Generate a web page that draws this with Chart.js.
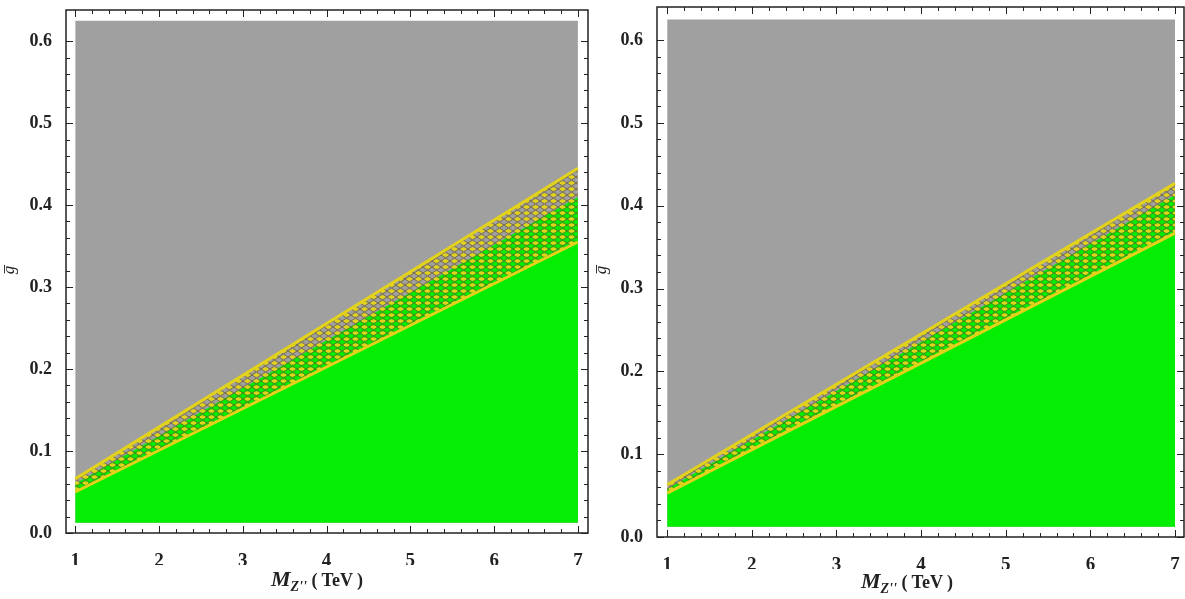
<!DOCTYPE html>
<html>
<head>
<meta charset="utf-8">
<script src="https://cdn.jsdelivr.net/npm/chart.js@4.4.0/dist/chart.umd.min.js"></script>
<style>
  html, body { margin: 0; padding: 0; background: #fff; }
  body { width: 1185px; height: 599px; position: relative; overflow: hidden; }
  canvas { position: absolute; top: 0; }
  .xtitle { position: absolute; font-family: "Liberation Serif", serif; font-weight: bold; font-size: 18px; color: #222; white-space: nowrap; }
  .xtitle i { font-size: 22px; }
  .xtitle i sub { font-size: 14px; }
  .ytitle { position: absolute; font-family: "Liberation Serif", serif; font-style: italic; font-size: 17px; color: #222; transform: rotate(-90deg); }
</style>
</head>
<body>
<canvas id="leftChart" width="595" height="599" style="left:0"></canvas>
<canvas id="rightChart" width="590" height="599" style="left:595px"></canvas>
<div class="ytitle" style="left:5px; top:260px">g&#773;</div>
<div class="ytitle" style="left:597px; top:260px">g&#773;</div>
<div class="xtitle" style="left:271px; top:566px"><i>M<sub>Z''</sub></i> ( TeV )</div>
<div class="xtitle" style="left:861px; top:568px"><i>M<sub>Z''</sub></i> ( TeV )</div>
<script>
// --- data ---
const massTeV = [1, 7];
const regionTop = [0.625, 0.625];
const regionBottom = [0.0125, 0.0125];

// left panel boundaries (g-bar vs M_Z'')
const leftUpper = [0.066, 0.445];
const leftMiddle = [0.060, 0.410];
const leftLower = [0.050, 0.355];

// right panel boundaries
const rightUpper = [0.063, 0.427];
const rightMiddle = [0.058, 0.413];
const rightLower = [0.053, 0.367];

const xTickValues = [1, 2, 3, 4, 5, 6, 7];
const yTickValues = [0, 0.1, 0.2, 0.3, 0.4, 0.5, 0.6];

const GRAY = '#a0a0a0';
const GREEN = '#04ee04';
const YELLOW = '#e2d21c';

function pts(ys) {
    return massTeV.map((x, i) => ({ x: x, y: ys[i] }));
}

// yellow lattice used for the hatched band
function makeHatch() {
    const c = document.createElement('canvas');
    c.width = 9; c.height = 6;
    const g = c.getContext('2d');
    g.fillStyle = YELLOW;
    g.beginPath();
    g.ellipse(4.5, 3, 3, 1.8, 0, 0, Math.PI * 2);
    g.fill();
    g.strokeStyle = 'rgba(105,90,40,0.7)';
    g.lineWidth = 1;
    g.beginPath();
    g.moveTo(0, 3); g.lineTo(4.5, 0); g.lineTo(9, 3); g.lineTo(4.5, 6); g.closePath();
    g.stroke();
    return g.createPattern(c, 'repeat');
}

// Mathematica-style frame with inward ticks on all four sides
const frameTicks = {
    id: 'frameTicks',
    afterDraw(chart) {
        const { ctx, chartArea: a, scales: { x, y } } = chart;
        ctx.save();
        ctx.strokeStyle = '#222';
        ctx.lineWidth = 1.5;
        ctx.strokeRect(a.left, a.top, a.right - a.left, a.bottom - a.top);
        ctx.lineWidth = 1;
        ctx.beginPath();
        for (let v = 1; v <= 7.001; v += 0.2) {
            const px = Math.round(x.getPixelForValue(v)) + 0.5;
            const major = Math.abs(v - Math.round(v)) < 0.01;
            const len = major ? 7 : 4;
            ctx.moveTo(px, a.bottom); ctx.lineTo(px, a.bottom - len);
            ctx.moveTo(px, a.top); ctx.lineTo(px, a.top + len);
        }
        for (let v = 0; v <= 0.62; v += 0.02) {
            const py = Math.round(y.getPixelForValue(v)) + 0.5;
            const major = Math.abs(v * 10 - Math.round(v * 10)) < 0.01;
            const len = major ? 7 : 4;
            ctx.moveTo(a.left, py); ctx.lineTo(a.left + len, py);
            ctx.moveTo(a.right, py); ctx.lineTo(a.right - len, py);
        }
        ctx.stroke();
        ctx.restore();
    }
};

function noPad(s) {
    s.paddingTop = 0; s.paddingBottom = 0; s.paddingLeft = 0; s.paddingRight = 0;
}

function buildChart(id, upper, middle, lower, box) {
    const hatch = makeHatch();
    return new Chart(document.getElementById(id), {
        type: 'line',
        data: {
            datasets: [
                { data: pts(regionBottom), borderWidth: 0, pointRadius: 0, fill: false, order: 10 },
                { data: pts(regionTop), borderWidth: 0, pointRadius: 0, fill: 0, backgroundColor: GRAY, order: 9 },
                { data: pts(middle), borderWidth: 0, pointRadius: 0, fill: 0, backgroundColor: GREEN, order: 8 },
                { data: pts(upper), borderColor: YELLOW, borderWidth: 3, pointRadius: 0, fill: 4, backgroundColor: hatch, order: 5 },
                { data: pts(lower), borderColor: YELLOW, borderWidth: 3, pointRadius: 0, fill: false, order: 4 }
            ]
        },
        options: {
            responsive: false,
            animation: false,
            devicePixelRatio: 1,
            layout: { padding: { top: box.top, right: box.right, left: 0, bottom: box.bottom } },
            plugins: { legend: { display: false }, tooltip: { enabled: false } },
            scales: {
                x: {
                    type: 'linear',
                    min: box.xmin, max: box.xmax,
                    grid: { display: false },
                    border: { display: false },
                    afterBuildTicks: s => { s.ticks = xTickValues.map(v => ({ value: v })); },
                    afterFit: s => { s.height = 32; noPad(s); },
                    ticks: {
                        padding: 9,
                        color: '#222',
                        font: { family: 'Liberation Serif', weight: 'bold', size: 19 },
                        callback: v => String(v)
                    }
                },
                y: {
                    min: 0, max: box.ymax,
                    grid: { display: false },
                    border: { display: false },
                    afterBuildTicks: s => { s.ticks = yTickValues.map(v => ({ value: v })); },
                    afterFit: s => { s.width = box.yw; noPad(s); },
                    ticks: {
                        padding: 6,
                        color: '#222',
                        font: { family: 'Liberation Serif', weight: 'bold', size: 18 },
                        callback: v => v.toFixed(1)
                    }
                }
            }
        },
        plugins: [frameTicks]
    });
}

buildChart('leftChart', leftUpper, leftMiddle, leftLower,
    { top: 10, right: 7, bottom: 34, yw: 66, xmin: 0.89, xmax: 7.12, ymax: 0.638 });
buildChart('rightChart', rightUpper, rightMiddle, rightLower,
    { top: 7, right: 1, bottom: 30, yw: 62, xmin: 0.88, xmax: 7.106, ymax: 0.640 });
</script>
</body>
</html>
